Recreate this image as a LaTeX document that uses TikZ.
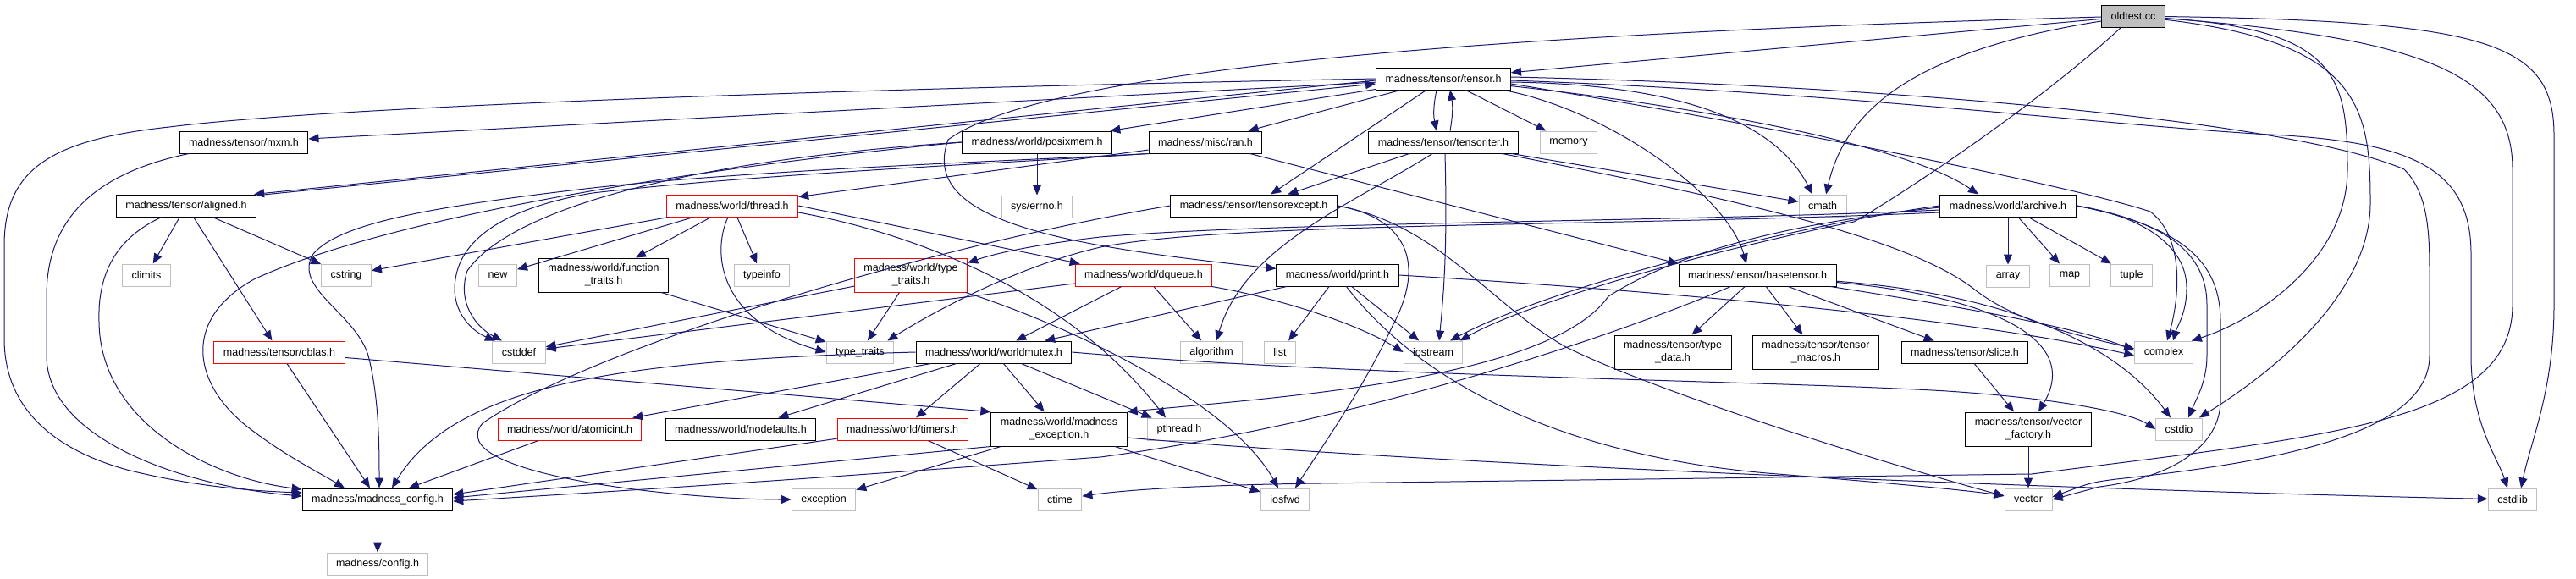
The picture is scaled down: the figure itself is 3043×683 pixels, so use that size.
\documentclass[tikz,border=0pt]{standalone}
\usepackage{fontspec}
\setmainfont{Liberation Sans}
\usetikzlibrary{arrows.meta,positioning}
\definecolor{cEdge}{HTML}{191970}
\definecolor{cGrey}{HTML}{BFBFBF}
\definecolor{cTrunc}{HTML}{FF0000}
\definecolor{cInk}{HTML}{000000}
\newcommand{\dxfont}{\fontsize{12.5pt}{15pt}\selectfont}
\tikzset{
  box/.style  ={draw=cInk,fill=white,line width=1pt,inner xsep=11pt,inner ysep=0pt,
                minimum height=26pt,font=\dxfont,align=center},
  sbox/.style ={box,draw=cGrey},
  rbox/.style ={box,draw=cTrunc},
  root/.style ={box,fill=cGrey},
  tall/.style ={minimum height=40pt},
  dep/.style  ={-{Triangle[length=12pt,width=10pt]},cEdge,line width=1pt},
}

\begin{document}
\begin{tikzpicture}[x=1pt,y=-1pt]
\useasboundingbox[fill=white] (0,0) rectangle (3043,683);

\node[root] (root) at (2520,19) {oldtest.cc};
\node[box]  (tns) at (1705,93) {madness/tensor/tensor.h};
\node[box]  (mxm) at (288,168) {madness/tensor/mxm.h};
\node[box]  (psx) at (1225,168) {madness/world/posixmem.h};
\node[box]  (ran) at (1424,168) {madness/misc/ran.h};
\node[box]  (titer) at (1705,168) {madness/tensor/tensoriter.h};
\node[sbox] (mem) at (1853,168) {memory};
\node[box]  (algn) at (220,243) {madness/tensor/aligned.h};
\node[rbox] (thr) at (865,243) {madness/world/thread.h};
\node[sbox,below=49pt of psx] (errno) {sys/errno.h};
\node[box]  (texc) at (1481,243) {madness/tensor/tensorexcept.h};
\node[sbox] (cmath) at (2153,243) {cmath};
\node[box]  (arch) at (2372,243) {madness/world/archive.h};
\node[sbox] (climits) at (173,325) {climits};
\node[sbox] (cstring) at (409,325) {cstring};
\node[sbox] (new) at (588,325) {new};
\node[box,tall] (ftr) at (713,325) {madness/world/function\\\_traits.h};
\node[sbox] (tinfo) at (900,325) {typeinfo};
\node[rbox,tall] (tyw) at (1076,325) {madness/world/type\\\_traits.h};
\node[rbox] (dq) at (1351,325) {madness/world/dqueue.h};
\node[box]  (prt) at (1580,325) {madness/world/print.h};
\node[box]  (btn) at (2076,325) {madness/tensor/basetensor.h};
\node[sbox,below=56pt of arch] (array) {array};
\node[sbox] (map) at (2445,325) {map};
\node[sbox] (tuple) at (2518,325) {tuple};
\node[rbox] (cblas) at (330,416) {madness/tensor/cblas.h};
\node[sbox] (cstddef) at (613,416) {cstddef};
\node[sbox] (tyt) at (1016,416) {type\_traits};
\node[box]  (wmx) at (1174,416) {madness/world/worldmutex.h};
\node[sbox] (algo) at (1431,416) {algorithm};
\node[sbox] (list) at (1512,416) {list};
\node[sbox] (iostr) at (1693,416) {iostream};
\node[box,tall] (tdat) at (1976,416) {madness/tensor/type\\\_data.h};
\node[box,tall] (tmac) at (2145,416) {madness/tensor/tensor\\\_macros.h};
\node[box]  (slice) at (2321,416) {madness/tensor/slice.h};
\node[sbox] (cplx) at (2556,416) {complex};
\node[rbox] (atom) at (673,507) {madness/world/atomicint.h};
\node[box]  (nodef) at (875,507) {madness/world/nodefaults.h};
\node[rbox] (tmr) at (1066,507) {madness/world/timers.h};
\node[box,tall] (mexc) at (1251,507) {madness/world/madness\\\_exception.h};
\node[sbox] (pthr) at (1393,507) {pthread.h};
\node[box,tall] (vfac) at (2396,507) {madness/tensor/vector\\\_factory.h};
\node[sbox] (cstdio) at (2574,507) {cstdio};
\node[box]  (mcfg) at (446,590) {madness/madness\_config.h};
\node[sbox] (exc) at (973,590) {exception};
\node[sbox] (ctime) at (1252,590) {ctime};
\node[sbox] (iosfwd) at (1518,590) {iosfwd};
\node[sbox] (vec) at (2396,590) {vector};
\node[sbox] (cstdlib) at (2968,590) {cstdlib};
\node[sbox,below=49pt of mcfg] (cfg) {madness/config.h};

\draw[dep] (root) -- (tns);
\draw[dep] (root) .. controls (1900,36) and (1250,70) .. (1120,165) .. controls (1085,260) and (1250,290) .. (prt);
\draw[dep] (root) .. controls (2260,60) and (2180,130) .. ([xshift=4pt]cmath.north);
\draw[dep] (root) .. controls (2400,130) and (2230,240) .. (2190,262) .. controls (2000,300) and (1800,360) .. ([xshift=-4pt]iostr.north east);
\draw[dep] (root) .. controls (2760,35) and (2773,90) .. (2773,200) .. controls (2773,310) and (2660,380) .. ([xshift=-2pt]cplx.north east);
\draw[dep] (root) .. controls (2790,50) and (2800,130) .. (2800,240) .. controls (2800,340) and (2700,430) .. ([xshift=-4pt]cstdio.north east);
\draw[dep] (root) .. controls (2940,25) and (3017,50) .. (3017,160) -- (3017,360) .. controls (3017,460) and (2990,520) .. ([xshift=10pt]cstdlib.north);
\draw[dep] (root) .. controls (2870,45) and (2968,90) .. (2968,200) -- (2968,360) .. controls (2968,500) and (2750,515) .. (2400,560) -- (1560,571) .. controls (1400,573) and (1320,580) .. (ctime);

\draw[dep] (tns) -- (mxm);
\draw[dep] ([yshift=-2pt]tns.west) -- ([xshift=-3pt]algn.north east);
\draw[dep] ([xshift=3pt,yshift=-1pt]algn.north east) -- ([yshift=-6pt]tns.west);
\draw[dep] (tns) -- (psx);
\draw[dep] (tns) -- (ran);
\draw[dep] ([xshift=-8pt]tns.south) to[bend right=12] ([xshift=-8pt]titer.north);
\draw[dep] ([xshift=8pt]titer.north) to[bend right=10] ([xshift=8pt]tns.south);
\draw[dep] (tns) -- (texc);
\draw[dep] (tns) -- (mem);
\draw[dep] ([yshift=-4pt]tns.east) .. controls (2000,100) and (2100,150) .. ([xshift=-12pt]cmath.north);
\draw[dep] (tns) .. controls (2000,125) and (2250,170) .. ([xshift=-35pt]arch.north);
\draw[dep] (tns) .. controls (1900,130) and (2040,230) .. ([xshift=-13pt]btn.north);
\draw[dep] ([yshift=-6pt]tns.east) .. controls (2100,150) and (2450,220) .. (2540,250) .. controls (2580,280) and (2575,350) .. ([xshift=4pt]cplx.north);
\draw[dep] ([yshift=-2pt]tns.east) .. controls (2200,110) and (2500,150) .. (2700,160) .. controls (2850,170) and (2919,200) .. (2919,300) -- (2919,420) .. controls (2919,500) and (2950,540) .. ([xshift=-6pt]cstdlib.north);
\draw[dep] ([yshift=2pt]tns.east) .. controls (2200,100) and (2700,140) .. (2840,200) .. controls (2870,230) and (2870,280) .. (2870,330) -- (2870,420) .. controls (2870,510) and (2700,545) .. (2500,566) .. controls (2470,570) .. ([yshift=3pt]vec.east);
\draw[dep] (tns.west) .. controls (1000,105) and (400,125) .. (200,150) .. controls (60,165) and (5,200) .. (5,290) -- (5,400) .. controls (5,480) and (60,530) .. (150,555) .. controls (230,575) and (300,580) .. ([yshift=8pt]mcfg.west);

\draw[dep] (algn) -- (climits);
\draw[dep] (algn) -- (cstring);
\draw[dep] (algn) -- (cblas);
\draw[dep] (algn) .. controls (140,280) and (115,320) .. (117,380) .. controls (118,500) and (250,565) .. ([yshift=12pt]mcfg.west);
\draw[dep] (mxm) .. controls (110,205) and (55,260) .. (55,350) -- (55,420) .. controls (55,520) and (220,575) .. ([yshift=4pt]mcfg.west);

\draw[dep] (psx) -- (errno);
\draw[dep] (psx.west) .. controls (800,200) and (450,260) .. (300,330) .. controls (210,380) and (230,460) .. (300,510) .. controls (340,540) and (380,560) .. ([xshift=-39pt]mcfg.north);
\draw[dep] (psx.west) .. controls (800,190) and (600,250) .. (552,320) .. controls (540,355) and (560,385) .. ([xshift=-20pt]cstddef.north);

\draw[dep] (ran) -- (thr);
\draw[dep] (ran.south west) .. controls (1200,190) and (900,200) .. (700,222) .. controls (500,245) and (400,265) .. (370,300) .. controls (345,340) and (420,370) .. (435,420) .. controls (448,470) and (448,530) .. ([xshift=2pt]mcfg.north);
\draw[dep] (ran.south west) .. controls (1200,192) and (900,205) .. (700,228) .. controls (600,245) and (545,280) .. (538,330) .. controls (532,365) and (555,390) .. ([xshift=-28pt]cstddef.north);
\draw[dep] (ran) -- (btn.north west);

\draw[dep] (titer) -- (texc);
\draw[dep] ([xshift=-13pt]titer.south) .. controls (1600,240) and (1470,290) .. ([xshift=6pt]algo.north);
\draw[dep] ([xshift=2pt]titer.south) .. controls (1710,300) and (1705,350) .. ([xshift=7pt]iostr.north);
\draw[dep] (titer) -- (cmath);
\draw[dep] (titer) .. controls (2050,235) and (2250,280) .. (2330,340) .. controls (2380,380) and (2450,395) .. ([yshift=4pt]cplx.west);

\draw[dep] (texc.west) .. controls (1100,290) and (700,410) .. (570,500) .. controls (520,560) and (800,590) .. (exc);
\draw[dep] (texc.east) .. controls (1650,255) and (1690,300) .. (1645,385) .. controls (1610,460) and (1560,530) .. ([xshift=12pt]iosfwd.north);
\draw[dep] (texc.east) .. controls (1700,265) and (1760,360) .. (1850,410) .. controls (1950,460) and (2200,540) .. ([yshift=4pt]vec.west);

\draw[dep] (thr) -- (new);
\draw[dep] (thr) -- (ftr);
\draw[dep] (thr) -- (tinfo);
\draw[dep] (thr) -- (cstring);
\draw[dep] (thr.east) -- ([xshift=6pt]dq.north west);
\draw[dep] ([xshift=-5pt]thr.south) .. controls (840,300) and (850,380) .. (tyt.west);
\draw[dep] ([yshift=-8pt]thr.east) .. controls (1050,270) and (1250,330) .. ([xshift=-16pt]pthr.north);

\draw[dep] (ftr) -- (tyt);
\draw[dep] (tyw) -- (tyt);
\draw[dep] (tyw) -- (cstddef);
\draw[dep] (tyw) .. controls (1250,380) and (1450,470) .. ([xshift=-8pt]iosfwd.north);

\draw[dep] (dq) -- (wmx);
\draw[dep] (dq) -- (algo);
\draw[dep] (dq) .. controls (1500,350) and (1600,380) .. (iostr.west);
\draw[dep] (dq) -- (cstddef);

\draw[dep] (prt) -- (iostr);
\draw[dep] (prt) -- (list);
\draw[dep] (prt) -- (wmx);
\draw[dep] (prt) .. controls (1700,480) and (1900,545) .. (2100,560) .. controls (2250,572) and (2330,580) .. (vec);
\draw[dep] (prt.east) .. controls (1900,340) and (2300,370) .. ([yshift=-4pt]cplx.west);

\draw[dep] (wmx) -- (atom);
\draw[dep] (wmx) -- (nodef);
\draw[dep] (wmx) -- (tmr);
\draw[dep] (wmx) -- (mexc);
\draw[dep] (wmx) -- (pthr);
\draw[dep] (wmx.west) .. controls (750,425) and (540,450) .. ([xshift=17pt]mcfg.north);
\draw[dep] (wmx.east) .. controls (1600,445) and (2100,450) .. (2300,462) .. controls (2450,472) and (2520,490) .. (cstdio.west);

\draw[dep] (atom) -- (mcfg);
\draw[dep] (tmr) -- ([yshift=6pt]mcfg.east);
\draw[dep] (tmr) -- (ctime);
\draw[dep] (mexc.south west) -- ([yshift=2pt]mcfg.east);
\draw[dep] (mexc) -- (exc);
\draw[dep] (mexc) -- (iosfwd);
\draw[dep] ([yshift=-10pt]mexc.east) .. controls (1700,550) and (2500,580) .. (cstdlib);
\draw[dep] (cblas) -- (mcfg);
\draw[dep] (cblas) -- (mexc.north west);

\draw[dep] (btn) -- (tdat);
\draw[dep] (btn) -- (tmac);
\draw[dep] (btn) -- (slice);
\draw[dep] (btn) .. controls (2350,350) and (2460,400) .. ([xshift=12pt]vfac.north);
\draw[dep] (btn) .. controls (2300,360) and (2450,385) .. ([yshift=2pt]cplx.west);
\draw[dep] (btn) .. controls (2400,350) and (2510,420) .. ([xshift=-10pt]cstdio.north);
\draw[dep] (btn) .. controls (1900,400) and (1600,500) .. (1300,540) .. controls (900,570) and (700,582) .. ([yshift=-2pt]mcfg.east);

\draw[dep] (arch) -- (array);
\draw[dep] (arch) -- (map);
\draw[dep] (arch) -- (tuple);
\draw[dep] (arch.east) .. controls (2530,255) and (2583,290) .. (2583,340) .. controls (2583,370) and (2572,385) .. ([xshift=11pt]cplx.north);
\draw[dep] (arch.east) .. controls (2560,262) and (2607,300) .. (2607,360) -- (2607,420) .. controls (2607,450) and (2595,470) .. ([xshift=11pt]cstdio.north);
\draw[dep] (arch.east) .. controls (2580,268) and (2623,310) .. (2623,380) -- (2623,470) .. controls (2625,530) and (2560,565) .. (2480,575) -- (vec.east);
\draw[dep] (arch.west) .. controls (2150,262) and (1850,330) .. ([xshift=20pt]iostr.north);
\draw[dep] ([yshift=-5pt]arch.west) .. controls (2000,262) and (1500,262) .. (1300,280) .. controls (1230,288) and (1180,298) .. ([yshift=-6pt]tyw.north east);
\draw[dep] ([yshift=-8pt]arch.west) .. controls (1900,268) and (1450,262) .. (1300,292) .. controls (1200,315) and (1100,370) .. ([xshift=-8pt]tyt.north east);
\draw[dep] ([yshift=-2pt]arch.west) .. controls (2100,265) and (1980,300) .. (1900,350) .. controls (1830,450) and (1500,470) .. (mexc.north east);

\draw[dep] (slice) -- (vfac);
\draw[dep] (vfac) -- (vec);
\draw[dep] (mcfg) -- (cfg);
\end{tikzpicture}
\end{document}
